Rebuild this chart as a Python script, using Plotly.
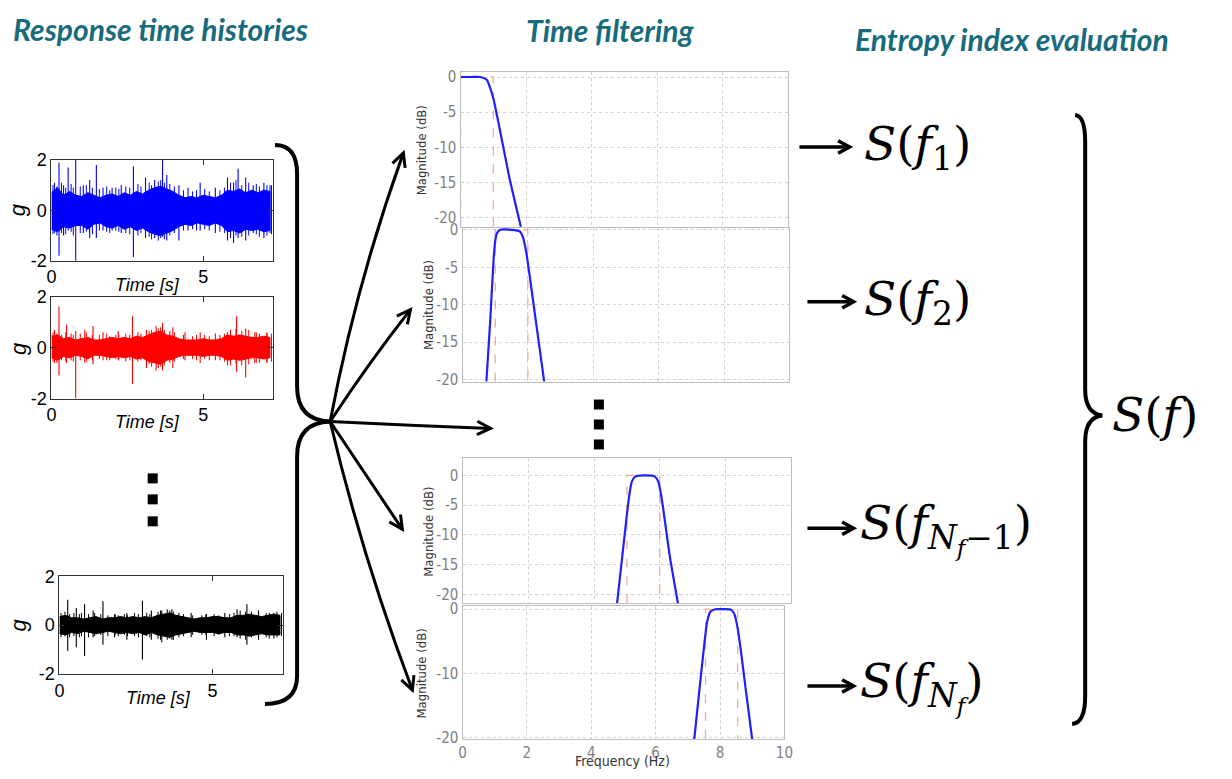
import plotly.graph_objects as go

W, H = 1232, 779

# ---------------- response time histories (g vs time) ----------------
t_env = [round(0.2 * i, 1) for i in range(37)]

blue_hi = [0.7, 0.9, 0.6, 0.75, 0.6, 0.55, 0.7, 0.6, 0.5, 0.6, 0.65, 0.55, 0.7, 0.6, 0.75, 0.65, 0.8, 0.9, 0.95,
           0.85, 0.75, 0.6, 0.5, 0.55, 0.5, 0.6, 0.55, 0.5, 0.6, 0.8, 0.75, 0.85, 0.7, 0.8, 0.7, 0.8, 0.75]
blue_lo = [-0.75, -0.85, -0.65, -0.7, -0.6, -0.6, -0.75, -0.55, -0.5, -0.65, -0.7, -0.6, -0.75, -0.65, -0.8, -0.7,
           -0.85, -0.95, -1.0, -0.9, -0.8, -0.65, -0.55, -0.6, -0.5, -0.55, -0.6, -0.5, -0.6, -0.85, -0.8, -0.9,
           -0.75, -0.8, -0.75, -0.85, -0.8]
red_hi = [0.45, 0.5, 0.35, 0.4, 0.3, 0.35, 0.4, 0.3, 0.3, 0.35, 0.4, 0.35, 0.4, 0.35, 0.45, 0.4, 0.5, 0.6, 0.65,
          0.5, 0.45, 0.35, 0.3, 0.3, 0.3, 0.35, 0.3, 0.3, 0.35, 0.5, 0.45, 0.5, 0.45, 0.4, 0.4, 0.45, 0.4]
red_lo = [-0.4, -0.5, -0.35, -0.4, -0.3, -0.35, -0.45, -0.3, -0.3, -0.35, -0.4, -0.35, -0.4, -0.35, -0.45, -0.4,
          -0.55, -0.6, -0.65, -0.5, -0.45, -0.35, -0.3, -0.3, -0.3, -0.35, -0.3, -0.3, -0.35, -0.5, -0.45, -0.5,
          -0.45, -0.4, -0.4, -0.45, -0.4]
black_hi = [0.35, 0.4, 0.3, 0.3, 0.25, 0.3, 0.35, 0.25, 0.3, 0.3, 0.35, 0.3, 0.35, 0.3, 0.35, 0.3, 0.4, 0.45, 0.5,
            0.4, 0.35, 0.3, 0.25, 0.3, 0.3, 0.35, 0.35, 0.3, 0.3, 0.4, 0.4, 0.45, 0.4, 0.35, 0.4, 0.45, 0.4]
black_lo = [-0.35, -0.4, -0.3, -0.35, -0.25, -0.3, -0.35, -0.3, -0.25, -0.3, -0.35, -0.3, -0.35, -0.3, -0.4, -0.3,
            -0.4, -0.45, -0.5, -0.4, -0.35, -0.3, -0.25, -0.3, -0.3, -0.3, -0.35, -0.3, -0.3, -0.4, -0.4, -0.45,
            -0.4, -0.35, -0.4, -0.4, -0.4]

# large isolated peaks: time, positive peak, negative peak
blue_spk_t = [0.1, 0.25, 0.4, 0.55, 0.8, 1.05, 1.26, 1.48, 1.7, 2.0, 2.3, 2.7, 3.1, 3.4, 3.66, 3.8, 4.2, 4.5, 4.9,
              5.4, 5.8, 6.0, 6.15, 6.4, 6.65, 7.0, 7.2]
blue_spk_up = [1.1, 1.9, 1.0, 1.7, 2.0, 1.0, 1.2, 1.8, 0.9, 0.9, 1.0, 1.75, 1.3, 1.2, 2.0, 1.4, 1.0, 0.9, 1.1,
               0.9, 1.3, 1.1, 1.65, 1.3, 1.0, 1.1, 1.0]
blue_spk_dn = [-0.9, -1.8, -1.0, -0.8, -2.0, -0.9, -1.1, -1.1, -0.8, -0.8, -0.9, -1.85, -1.1, -1.1, -1.05, -1.2,
               -1.2, -0.8, -0.8, -0.9, -1.2, -1.3, -1.1, -1.2, -0.9, -1.1, -0.9]
red_spk_t = [0.1, 0.25, 0.5, 0.8, 1.1, 1.37, 1.7, 2.2, 2.67, 3.13, 3.45, 3.66, 4.0, 4.4, 4.9, 5.4, 5.8, 6.1, 6.4,
             6.7, 7.1]
red_spk_up = [0.7, 1.62, 0.9, 0.65, 0.7, 0.85, 0.6, 0.65, 1.23, 0.7, 0.85, 0.97, 0.8, 0.6, 0.6, 0.55, 0.6, 1.23,
              0.75, 0.6, 0.55]
red_spk_dn = [-0.6, -1.1, -0.6, -2.0, -0.6, -0.65, -0.5, -0.5, -1.43, -0.8, -0.9, -0.9, -0.8, -0.5, -0.6, -0.5,
              -0.7, -0.95, -1.17, -0.6, -0.6]
black_spk_t = [0.27, 0.55, 0.82, 1.1, 1.42, 1.8, 2.2, 2.71, 3.0, 3.34, 3.67, 4.3, 4.8, 5.4, 5.8, 6.12, 6.5, 7.0]
black_spk_up = [1.04, 0.7, 0.85, 0.6, 0.98, 0.45, 0.5, 1.0, 0.6, 0.6, 0.65, 0.5, 0.45, 0.5, 0.65, 0.85, 0.55, 0.5]
black_spk_dn = [-1.06, -0.9, -1.26, -0.5, -0.8, -0.5, -0.6, -1.4, -0.6, -0.7, -0.6, -0.5, -0.6, -0.5, -0.5, -0.8,
                -0.6, -0.55]

# smaller peaks poking out of the dense band
minor_t = [0.05, 0.18, 0.33, 0.47, 0.65, 0.72, 0.95, 1.15, 1.35, 1.58, 1.82, 1.92, 2.12, 2.22, 2.45, 2.58, 2.85,
           2.95, 3.22, 3.3, 3.52, 3.6, 3.72, 3.9, 4.05, 4.35, 4.65, 4.78, 5.05, 5.2, 5.55, 5.7, 5.9, 6.08, 6.27,
           6.5, 6.75, 6.85, 7.1, 7.25]
blue_minor_up = [1.0, 0.95, 1.1, 0.9, 1.05, 0.9, 0.95, 1.0, 0.9, 0.85, 0.95, 0.8, 0.9, 0.85, 0.95, 0.9, 1.05,
                 0.95, 1.1, 1.0, 1.15, 1.2, 1.1, 1.05, 0.95, 0.8, 0.75, 0.8, 0.85, 0.75, 0.8, 0.9, 1.1, 1.2, 1.0,
                 1.1, 1.05, 0.95, 1.0, 1.0]
blue_minor_dn = [-0.95, -1.0, -0.9, -0.95, -0.85, -1.0, -0.9, -0.85, -0.95, -0.8, -0.85, -0.9, -0.8, -0.85, -0.9,
                 -0.95, -1.0, -0.9, -1.05, -1.15, -1.2, -1.1, -1.15, -1.0, -0.9, -0.8, -0.75, -0.8, -0.75, -0.8,
                 -0.85, -0.9, -1.1, -1.0, -1.05, -1.0, -0.95, -1.05, -1.0, -0.95]
red_minor_up = [0.6, 0.55, 0.5, 0.6, 0.55, 0.5, 0.55, 0.6, 0.5, 0.5, 0.55, 0.45, 0.5, 0.5, 0.55, 0.5, 0.6, 0.55,
                0.65, 0.7, 0.75, 0.8, 0.7, 0.65, 0.6, 0.5, 0.45, 0.5, 0.5, 0.45, 0.5, 0.55, 0.7, 0.75, 0.65, 0.7,
                0.6, 0.55, 0.6, 0.55]
red_minor_dn = [-0.55, -0.6, -0.5, -0.55, -0.5, -0.55, -0.5, -0.55, -0.5, -0.45, -0.5, -0.5, -0.45, -0.5, -0.55,
                -0.5, -0.55, -0.5, -0.65, -0.75, -0.8, -0.75, -0.7, -0.6, -0.55, -0.45, -0.45, -0.5, -0.45, -0.5,
                -0.5, -0.55, -0.7, -0.65, -0.7, -0.65, -0.6, -0.6, -0.55, -0.55]
black_minor_up = [0.5, 0.55, 0.45, 0.5, 0.45, 0.5, 0.45, 0.5, 0.45, 0.4, 0.45, 0.4, 0.45, 0.4, 0.5, 0.45, 0.5,
                  0.45, 0.55, 0.6, 0.65, 0.6, 0.55, 0.5, 0.45, 0.4, 0.4, 0.45, 0.45, 0.4, 0.45, 0.5, 0.6, 0.55,
                  0.55, 0.6, 0.5, 0.5, 0.55, 0.5]
black_minor_dn = [-0.5, -0.45, -0.5, -0.45, -0.5, -0.45, -0.5, -0.45, -0.4, -0.45, -0.4, -0.45, -0.4, -0.45,
                  -0.45, -0.5, -0.45, -0.5, -0.55, -0.6, -0.6, -0.55, -0.6, -0.5, -0.45, -0.4, -0.4, -0.4, -0.45,
                  -0.4, -0.45, -0.45, -0.55, -0.6, -0.5, -0.55, -0.5, -0.55, -0.5, -0.45]

g_ticks = [-2, 0, 2]
g_tick_text = ["-2", "0", "2"]
time_ticks = [0, 5]
time_range = [0, 7.3]

# ---------------- band-pass filter magnitude responses ----------------
f1_freq = [0.0, 0.3, 0.6, 0.8, 0.9, 1.0, 1.2, 1.5, 1.85]
f1_mag = [0.0, 0.0, 0.0, -0.4, -1.5, -3.0, -7.5, -14.5, -21.5]
f2_freq = [0.73, 0.85, 0.95, 1.0, 1.05, 1.15, 1.5, 1.75, 1.85, 1.95, 2.05, 2.3, 2.5]
f2_mag = [-20.3, -12.0, -4.0, -1.5, -0.5, 0.0, 0.0, -0.2, -1.0, -3.0, -6.0, -14.0, -20.3]
f3_freq = [4.7, 4.85, 5.0, 5.08, 5.15, 5.25, 5.5, 5.85, 5.95, 6.03, 6.1, 6.3, 6.55]
f3_mag = [-21.5, -14.0, -6.5, -3.0, -1.0, -0.2, 0.0, -0.2, -1.0, -3.0, -5.5, -13.5, -21.5]
f4_freq = [7.2, 7.35, 7.5, 7.6, 7.7, 7.85, 8.1, 8.35, 8.45, 8.55, 8.65, 8.8, 9.0]
f4_mag = [-20.2, -13.0, -6.0, -2.0, -0.4, 0.0, 0.0, -0.1, -0.8, -3.0, -6.5, -12.5, -20.2]

band_lo = [0.0, 1.0, 5.0, 7.55]
band_hi = [1.0, 2.0, 6.0, 8.55]

freq_ticks = [0, 2, 4, 6, 8, 10]
mag_ticks_fine = [0, -5, -10, -15, -20]
mag_ticks_coarse = [0, -10, -20]
mag_ranges = [[-21.3, 0.7], [-20.27, 0.27], [-21.5, 2.86], [-20.16, 0.47]]

# ---------------- helpers ----------------
# the page frames the figure with a small border, so positions are laid out on that framed canvas
FX0, FXS = 5.7, 0.986
FY0, FYS = 7.8, 0.976


def px(x):
    return ((x - FX0) / FXS) / W


def py(y):
    return 1 - ((y - FY0) / FYS) / H


def dom(x0, x1, y0, y1):
    return [px(x0), px(x1)], [py(y1), py(y0)]


def ax_key(k, a):
    return f"{a}axis" if k == 1 else f"{a}axis{k}"


def ref(k, a):
    return a if k == 1 else f"{a}{k}"


def label(text, x, y, font, xanchor="center", yanchor="middle", angle=0):
    return dict(x=px(x), y=py(y), xref="paper", yref="paper", text=text, showarrow=False,
                xanchor=xanchor, yanchor=yanchor, textangle=angle, font=font)


def segments(ts, ups, dns):
    xs, ys = [], []
    for t, u, d in zip(ts, ups, dns):
        xs += [t, t, None]
        ys += [d, u, None]
    return xs, ys


fig = go.Figure()
layout = {}
shapes = []
annotations = []

# ---- time histories ----
time_boxes = [(52, 273, 158, 259), (52, 273, 295, 397), (60, 283, 575, 673)]
signals = [
    ("#0000ff", blue_hi, blue_lo, blue_spk_t, blue_spk_up, blue_spk_dn, blue_minor_up, blue_minor_dn),
    ("#ff0000", red_hi, red_lo, red_spk_t, red_spk_up, red_spk_dn, red_minor_up, red_minor_dn),
    ("#000000", black_hi, black_lo, black_spk_t, black_spk_up, black_spk_dn, black_minor_up, black_minor_dn),
]
label_pos = [(148, 283, 208), (148, 421, 347), (159, 697, 624)]
sans = "Liberation Sans, Arial, sans-serif"

for i, (col, hi, lo, st, su, sd, mu, md) in enumerate(signals):
    k = i + 1
    xa, ya = ref(k, "x"), ref(k, "y")
    fig.add_trace(go.Scatter(x=t_env + t_env[::-1], y=hi + lo[::-1], fill="toself", fillcolor=col,
                             mode="lines", line=dict(color=col, width=1), xaxis=xa, yaxis=ya,
                             hoverinfo="skip", showlegend=False))
    xs, ys = segments(minor_t, mu, md)
    fig.add_trace(go.Scatter(x=xs, y=ys, mode="lines", line=dict(color=col, width=1),
                             xaxis=xa, yaxis=ya, hoverinfo="skip", showlegend=False))
    xs, ys = segments(st, su, sd)
    fig.add_trace(go.Scatter(x=xs, y=ys, mode="lines", line=dict(color=col, width=1.1),
                             xaxis=xa, yaxis=ya, hoverinfo="skip", showlegend=False))
    xd, yd = dom(*time_boxes[i])
    common = dict(showline=True, linecolor="#333333", linewidth=1, mirror="allticks", ticks="inside",
                  ticklen=5, tickcolor="#333333", showgrid=False, zeroline=False,
                  tickfont=dict(family=sans, size=18, color="black"))
    layout[ax_key(k, "x")] = dict(domain=xd, anchor=ya, range=time_range, tickvals=time_ticks, **common)
    layout[ax_key(k, "y")] = dict(domain=yd, anchor=xa, range=[-2, 2], tickvals=g_ticks,
                                  ticktext=g_tick_text, **common)
    lx, ly, gy = label_pos[i]
    annotations.append(label("<i>Time [s]</i>", lx, ly, dict(family=sans, size=18, color="black")))
    annotations.append(label("<i>g</i>", 19, gy, dict(family=sans, size=22, color="black"), angle=-90))

# ---- filter responses ----
filter_boxes = [(460, 787, 70, 225), (462, 788, 226, 380), (462, 790, 457, 602), (462, 783, 605, 738)]
curves = [(f1_freq, f1_mag), (f2_freq, f2_mag), (f3_freq, f3_mag), (f4_freq, f4_mag)]
mag_label_pos = [(422, 148), (428, 303), (428, 530), (421, 672)]
narrow = "Liberation Sans Narrow, DejaVu Sans Condensed, Roboto Condensed, Arial Narrow, Liberation Sans, sans-serif"

for j in range(4):
    k = 4 + j
    xa, ya = ref(k, "x"), ref(k, "y")
    lo_y = mag_ranges[j][0]
    # passband specification (dashed)
    fig.add_trace(go.Scatter(x=[band_lo[j], band_lo[j], band_hi[j], band_hi[j]], y=[lo_y, 0, 0, lo_y],
                             mode="lines", line=dict(color="#f4a58e", width=1.2, dash="dash"),
                             xaxis=xa, yaxis=ya, hoverinfo="skip", showlegend=False))
    fr, mg = curves[j]
    fig.add_trace(go.Scatter(x=fr, y=mg, mode="lines", line=dict(color="#1f1fff", width=2.2, shape="spline",
                                                                  smoothing=0.6),
                             xaxis=xa, yaxis=ya, hoverinfo="skip", showlegend=False))
    xd, yd = dom(*filter_boxes[j])
    common = dict(showline=True, linecolor="#bdbdbd", linewidth=1.2, mirror=True, ticks="",
                  showgrid=True, gridcolor="#d2d2d2", griddash="dot", gridwidth=1, zeroline=False)
    last = j == 3
    mticks = mag_ticks_coarse if last else mag_ticks_fine
    layout[ax_key(k, "x")] = dict(domain=xd, anchor=ya, range=[0, 10], tickvals=freq_ticks,
                                  showticklabels=last, tickfont=dict(family=narrow, size=15, color="#808080"),
                                  **common)
    layout[ax_key(k, "y")] = dict(domain=yd, anchor=xa, range=mag_ranges[j], tickvals=mticks,
                                  ticktext=[str(v) for v in mticks],
                                  tickfont=dict(family=narrow, size=15, color="#808080"), **common)
    mx, my = mag_label_pos[j]
    annotations.append(label("Magnitude (dB)", mx, my, dict(family=narrow, size=13, color="#333333"),
                             angle=-90))

# x-axis title of the bottom filter panel, kept on the canvas
annotations.append(dict(x=px(622), y=0, xref="paper", yref="paper", text="Frequency (Hz)", showarrow=False,
                        xanchor="center", yanchor="bottom", yshift=-2,
                        font=dict(family=narrow, size=14, color="#333333")))

# ---- section headings ----
teal = "#176b7d"
for txt, hx, hy in [("Response time histories", 161, 27), ("Time filtering", 610, 28),
                    ("Entropy index evaluation", 1010, 37)]:
    annotations.append(label(f"<b><i>{txt}</i></b>", hx, hy,
                             dict(family="Lato, Open Sans, sans-serif", size=30, color=teal)))

# ---- entropy labels ----
serif = "DejaVu Serif, Liberation Serif, serif"
math_labels = [
    ("<i>S</i>(<i>f</i><sub>1</sub>)", 860, 145),
    ("<i>S</i>(<i>f</i><sub>2</sub>)", 860, 300),
    ("<i>S</i>(<i>f</i><sub><i>N<sub>f</sub></i>−1</sub>)", 856, 527),
    ("<i>S</i>(<i>f</i><sub><i>N<sub>f</sub></i></sub>)", 856, 685),
    ("<i>S</i>(<i>f</i>)", 1108, 413),
]
for txt, mx, my in math_labels:
    annotations.append(label(txt, mx, my, dict(family=serif, size=47, color="black"), xanchor="left"))


# ---- brackets, arrows, ellipsis marks ----
def path(cmds):
    out = []
    for c in cmds:
        if isinstance(c, str):
            out.append(c)
        else:
            out.append(f"{px(c[0]):.5f},{py(c[1]):.5f}")
    return " ".join(out)


line_blk = dict(color="black", width=4)
shapes.append(dict(type="path", xref="paper", yref="paper", line=line_blk,
                   path=path(["M", (275, 143), "Q", (297, 143), (297, 172), "L", (297, 385), "Q", (297, 419),
                              (330, 420)])))
shapes.append(dict(type="path", xref="paper", yref="paper", line=line_blk,
                   path=path(["M", (330, 420), "Q", (297, 421), (297, 455), "L", (297, 675), "Q", (297, 703),
                              (265, 703)])))
shapes.append(dict(type="path", xref="paper", yref="paper", line=line_blk,
                   path=path(["M", (1073, 113), "Q", (1083, 114), (1083, 140), "L", (1083, 388), "Q",
                              (1083, 412), (1100, 414), "Q", (1083, 416), (1083, 440), "L", (1083, 695), "Q",
                              (1083, 722), (1070, 723)])))

origin = (330, 420)
fan = [((356, 282), (403, 151)), ((368, 362), (410, 308)), ((410, 424), (490, 427)),
       ((366, 474), (402, 528)), ((362, 556), (412, 689))]


def head(ctrl, tip, size=15, spread=0.5):
    dx, dy = tip[0] - ctrl[0], tip[1] - ctrl[1]
    n = (dx * dx + dy * dy) ** 0.5
    ux, uy = dx / n, dy / n
    pts = []
    for s in (1, -1):
        cx = ux - s * uy * spread
        cy = uy + s * ux * spread
        m = (cx * cx + cy * cy) ** 0.5
        pts.append((tip[0] - size * cx / m, tip[1] - size * cy / m))
    return pts


for ctrl, tip in fan:
    shapes.append(dict(type="path", xref="paper", yref="paper", line=dict(color="black", width=3),
                       path=path(["M", origin, "Q", ctrl, tip])))
    a, b = head(ctrl, tip)
    shapes.append(dict(type="path", xref="paper", yref="paper", line=dict(color="black", width=3),
                       path=path(["M", a, "L", tip, "L", b])))

for x0, x1, yy in [(798, 848, 145), (806, 852, 300), (806, 852, 527), (806, 852, 685)]:
    shapes.append(dict(type="line", xref="paper", yref="paper", x0=px(x0), x1=px(x1 - 4), y0=py(yy), y1=py(yy),
                       line=dict(color="black", width=3.5)))
    a, b = head((x0, yy), (x1, yy), size=13, spread=0.55)
    shapes.append(dict(type="path", xref="paper", yref="paper", line=dict(color="black", width=3.5),
                       path=path(["M", a, "L", (x1, yy), "L", b])))

for cx, cy in [(153, 477), (153, 498), (153, 520), (598, 403), (598, 423), (598, 443)]:
    shapes.append(dict(type="rect", xref="paper", yref="paper", x0=px(cx - 5), x1=px(cx + 5),
                       y0=py(cy + 5), y1=py(cy - 5), fillcolor="black", line=dict(width=0)))

fig.update_layout(width=W, height=H, margin=dict(l=0, r=0, t=0, b=0), paper_bgcolor="white",
                  plot_bgcolor="rgba(0,0,0,0)", showlegend=False, shapes=shapes, annotations=annotations,
                  **layout)

fig.write_html("out.html")
